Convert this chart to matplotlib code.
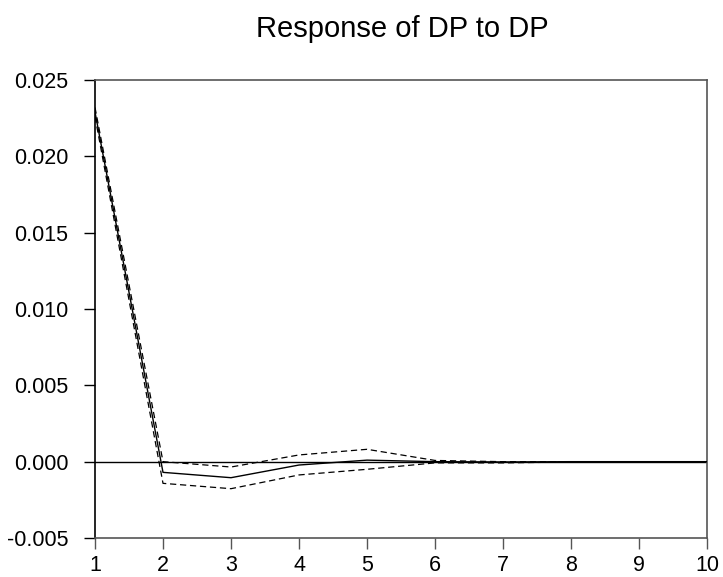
import matplotlib
matplotlib.use("Agg")
import matplotlib.pyplot as plt

# impulse response of DP to a DP shock, with +/- 2 S.E. bands
periods = [1, 2, 3, 4, 5, 6, 7, 8, 9, 10]
response = [0.0229, -0.00070, -0.00105, -0.00022, 0.00010, 0.00000, -0.00002, 0.0, 0.0, 0.0]
upper = [0.0232, 0.00000, -0.00035, 0.00044, 0.00081, 0.00008, 0.00000, 0.0, 0.0, 0.0]
lower = [0.0226, -0.00142, -0.00177, -0.00087, -0.00050, -0.00008, -0.00008, -0.00002, 0.0, 0.0]
yticks = [-0.005, 0.000, 0.005, 0.010, 0.015, 0.020, 0.025]

plt.rcParams['font.family'] = ['Liberation Sans', 'DejaVu Sans']

fig = plt.figure(figsize=(7.23, 5.77), dpi=100)
ax = fig.add_axes([95/723, 1 - 538/577, 612/723, 458/577])

ax.axhline(0, color='black', lw=1.0, zorder=1)
ax.plot(periods, response, color='black', lw=1.0, zorder=3)
ax.plot(periods, upper, color='black', lw=0.9, dashes=(5, 3), zorder=2)
ax.plot(periods, lower, color='black', lw=0.9, dashes=(5, 3), zorder=2)

ax.set_xlim(1, 10)
ax.set_ylim(-0.005, 0.025)
ax.set_xticks(periods)
ax.set_yticks(yticks)
ax.set_yticklabels(['%.3f' % v for v in yticks])

for side in ['top', 'right', 'bottom']:
    ax.spines[side].set_color('#555555')
ax.spines['left'].set_color('black')
for s in ax.spines.values():
    s.set_linewidth(1.2)

ax.tick_params(axis='y', direction='out', length=8, width=1.0, pad=11,
               labelsize=15.5, color='black')
ax.tick_params(axis='x', direction='out', length=8, width=1.0, pad=4,
               labelsize=15.5, color='#555555')

fig.text(0.557, 1 - 37/577, 'Response of DP to DP', ha='center', va='baseline',
         fontsize=21)

fig.savefig('out.png', dpi=100)
